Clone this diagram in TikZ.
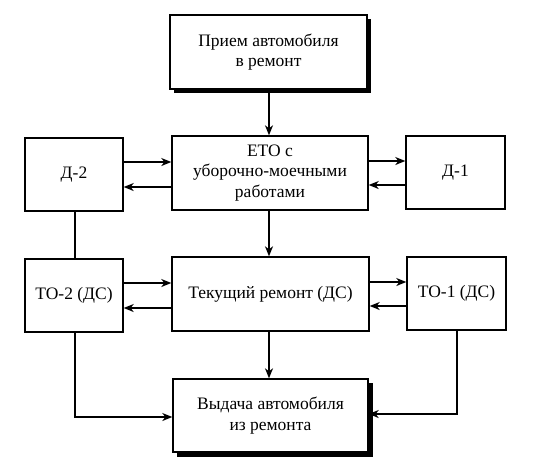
\documentclass[tikz,border=0pt]{standalone}
\usepackage{fontspec}
\setmainfont{Liberation Serif}
\usetikzlibrary{arrows.meta}
\begin{document}
\begin{tikzpicture}[x=1pt,y=-1pt,
  box/.style={draw, line width=1.4pt, fill=white, align=center, inner sep=0pt,
    font=\fontsize{17.5}{20.5}\selectfont},
  arr/.style={line width=1.3pt, -{Stealth[length=10pt,width=8pt,inset=3pt]}},
  ln/.style={line width=1.3pt}]
\useasboundingbox (0,0) rectangle (550,475);
% shadows
\fill (174,19) rectangle (371,93);
\fill (177,383) rectangle (373,457);
\node[box, minimum width=197pt, minimum height=74pt] (top) at (268.5,52) {Прием автомобиля\\в ремонт};
\node[box, minimum width=196pt, minimum height=74pt] (eto) at (270,173) {ЕТО с\\уборочно-моечными\\работами};
\node[box, minimum width=98pt, minimum height=73pt] (d2) at (74,174.5) {Д-2};
\node[box, minimum width=99pt, minimum height=73pt] (d1) at (455.5,172.5) {Д-1};
\node[box, minimum width=98pt, minimum height=73pt] (to2) at (74,295.5) {ТО-2 (ДС)};
\node[box, minimum width=197pt, minimum height=74pt] (tr) at (270.5,294) {Текущий ремонт (ДС)};
\node[box, minimum width=99pt, minimum height=73pt] (to1) at (456.5,293.5) {ТО-1 (ДС)};
\node[box, minimum width=195pt, minimum height=73pt] (out) at (270.5,415.5) {Выдача автомобиля\\из ремонта};
% vertical main flow
\draw[arr] (top.south -| 269,0) -- (eto.north -| 269,0);
\draw[arr] (eto.south -| 269,0) -- (tr.north -| 269,0);
\draw[arr] (tr.south -| 269,0) -- (out.north -| 269,0);
% horizontal pairs
\draw[arr] (d2.east |- 0,162) -- (eto.west |- 0,162);
\draw[arr] (eto.west |- 0,187) -- (d2.east |- 0,187);
\draw[arr] (eto.east |- 0,161) -- (d1.west |- 0,161);
\draw[arr] (d1.west |- 0,185) -- (eto.east |- 0,185);
\draw[arr] (to2.east |- 0,283) -- (tr.west |- 0,283);
\draw[arr] (tr.west |- 0,308) -- (to2.east |- 0,308);
\draw[arr] (tr.east |- 0,282) -- (to1.west |- 0,282);
\draw[arr] (to1.west |- 0,306) -- (tr.east |- 0,306);
% side lines
\draw[ln] (d2.south -| 75,0) -- (to2.north -| 75,0);
\draw[arr] (to2.south -| 75,0) |- (out.west |- 0,417);
\draw[arr] (to1.south -| 457,0) |- (out.east |- 0,414);
\end{tikzpicture}
\end{document}
